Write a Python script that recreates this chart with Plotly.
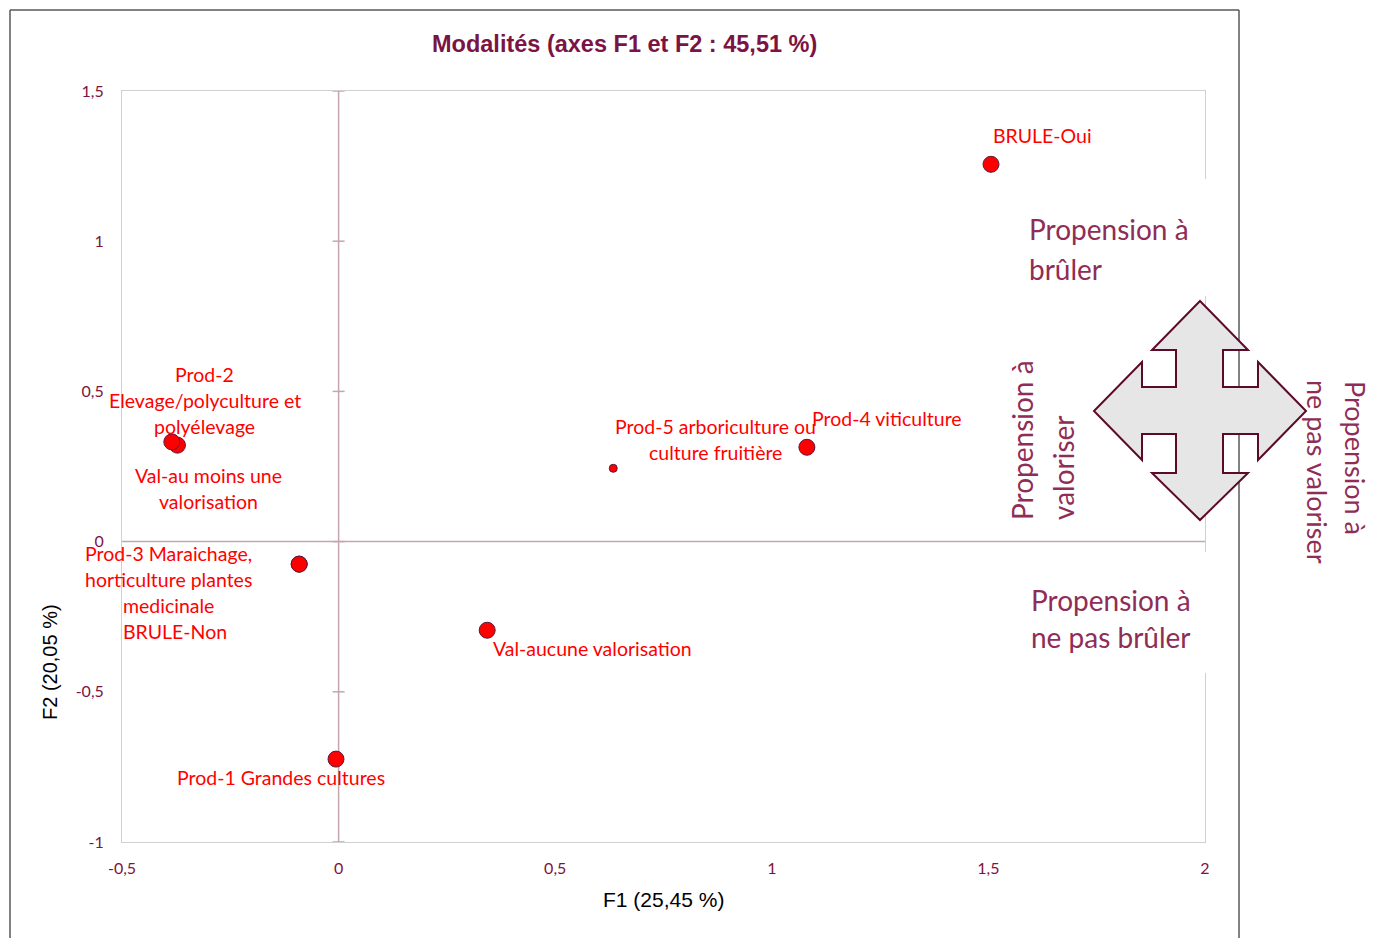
import plotly.graph_objects as go

# ---------------- data ----------------
categories = ["BRULE-Oui", "Prod-4 viticulture", "Prod-5 arboriculture ou\nculture fruitière",
              "Val-aucune valorisation", "Prod-1 Grandes cultures",
              "Prod-3 Maraichage,\nhorticulture plantes\nmedicinale", "BRULE-Non",
              "Val-au moins une\nvalorisation", "Prod-2\nElevage/polyculture et\npolyélevage"]
f1_values = [1.506, 1.081, 0.634, 0.343, -0.006, -0.091, -0.091, -0.372, -0.385]
f2_values = [1.256, 0.314, 0.244, -0.295, -0.724, -0.075, -0.075, 0.321, 0.332]

x_ticks = [-0.5, 0, 0.5, 1, 1.5, 2]
x_tick_labels = ["-0,5", "0", "0,5", "1", "1,5", "2"]
y_ticks = [-1, -0.5, 0, 0.5, 1, 1.5]
y_tick_labels = ["-1", "-0,5", "0", "0,5", "1", "1,5"]

title_text = "Modalités (axes F1 et F2 : 45,51 %)"
x_title = "F1 (25,45 %)"
y_title = "F2 (20,05 %)"

# ---------------- styling ----------------
W, H = 1380, 938
OFF = 8  # page body margin
L, R, T, B = 122, 1205, 91, 842  # plot area in screenshot pixels

def pxx(x):
    return (x - L) / (R - L)

def pxy(y):
    return (B - y) / (B - T)

marker_sizes = [16, 16, 8, 16, 16, 16, 16, 16, 16]
# label block offsets (pixels, y up) relative to each point
label_dx = [51, 80, 102, 105, -55, -131, -124, 31, 33]
label_dy = [29, 29, 29, -18, -18, -15, -67, -43, 41]
LINE_SP = 26

maroon = "#7b1343"
rose = "#8f2d56"
zero_col = "#c4a6ae"

fig = go.Figure()
fig.add_trace(go.Scatter(
    x=f1_values, y=f2_values, mode="markers",
    marker=dict(size=marker_sizes, color="#ff0000", opacity=1, line=dict(color="#5c1a3a", width=1)),
    hoverinfo="text", hovertext=[c.replace("\n", " ") for c in categories],
    showlegend=False,
))

annotations = []
for cat, xv, yv, dx, dy in zip(categories, f1_values, f2_values, label_dx, label_dy):
    lines = cat.split("\n")
    n = len(lines)
    for i, ln in enumerate(lines):
        annotations.append(dict(
            x=xv, y=yv, xref="x", yref="y", text=ln, showarrow=False,
            xshift=dx, yshift=dy + (n - 1) / 2 * LINE_SP - i * LINE_SP,
            xanchor="center", yanchor="middle",
            font=dict(family="Lato", size=19.5, color="#ff0000"),
        ))

# title & axis titles
annotations.append(dict(x=pxx(624), y=pxy(44), xref="paper", yref="paper", text="<b>" + title_text + "</b>",
                        showarrow=False, xanchor="center", yanchor="middle",
                        font=dict(family="Liberation Sans", size=23.5, color=maroon)))
annotations.append(dict(x=pxx(663), y=pxy(899), xref="paper", yref="paper", text=x_title,
                        showarrow=False, xanchor="center", yanchor="middle",
                        font=dict(family="Liberation Sans", size=21, color="#000000")))
annotations.append(dict(x=pxx(50), y=pxy(662), xref="paper", yref="paper", text=y_title, textangle=-90,
                        showarrow=False, xanchor="center", yanchor="middle",
                        font=dict(family="Liberation Sans", size=20, color="#000000")))

# side text boxes
def side_text(text, x, y, angle=0, xanchor="left", yanchor="middle", size=28):
    annotations.append(dict(x=pxx(x), y=pxy(y), xref="paper", yref="paper", text=text, textangle=angle,
                            showarrow=False, xanchor=xanchor, yanchor=yanchor,
                            font=dict(family="Lato", size=size, color=rose)))

side_text("Propension à", 1027, 229)
side_text("brûler", 1027, 269)
side_text("Propension à", 1029, 600)
side_text("ne pas brûler", 1029, 637)
side_text("Propension à", 1022, 440, angle=-90, xanchor="center")
side_text("valoriser", 1063, 468, angle=-90, xanchor="center")
side_text("Propension à", 1356, 458, angle=90, xanchor="center", size=27)
side_text("ne pas valoriser", 1318, 472, angle=90, xanchor="center", size=27)

shapes = []
# zero lines
shapes.append(dict(type="line", xref="x", yref="y", x0=0, x1=0, y0=-1, y1=1.5,
                   line=dict(color=zero_col, width=1.5), layer="below"))
shapes.append(dict(type="line", xref="x", yref="y", x0=-0.5, x1=2, y0=0, y1=0,
                   line=dict(color=zero_col, width=1.5), layer="below"))
for tv in y_ticks:
    shapes.append(dict(type="line", xref="x", yref="y", xsizemode="pixel", xanchor=0,
                       x0=-6, x1=6, y0=tv, y1=tv, line=dict(color=zero_col, width=1.5), layer="below"))

# outer chart border
border = dict(color="#595959", width=1.5)
shapes.append(dict(type="line", xref="paper", yref="paper", x0=pxx(10), x1=pxx(10), y0=pxy(10), y1=pxy(960), line=border))
shapes.append(dict(type="line", xref="paper", yref="paper", x0=pxx(10), x1=pxx(1239), y0=pxy(10), y1=pxy(10), line=border))
shapes.append(dict(type="line", xref="paper", yref="paper", x0=pxx(1239), x1=pxx(1239), y0=pxy(10), y1=pxy(960), line=border))

# white text boxes covering the plot border
shapes.append(dict(type="rect", xref="paper", yref="paper", x0=pxx(1015), x1=pxx(1215), y0=pxy(296), y1=pxy(179),
                   fillcolor="white", line=dict(width=0), layer="above"))
shapes.append(dict(type="rect", xref="paper", yref="paper", x0=pxx(1015), x1=pxx(1215), y0=pxy(673), y1=pxy(552),
                   fillcolor="white", line=dict(width=0), layer="above"))

# four-way arrow
arrow_pts = [(1200, 301), (1248, 350), (1223, 350), (1223, 387), (1258, 387), (1258, 362), (1306, 411),
             (1258, 460), (1258, 434), (1223, 434), (1223, 473), (1248, 473), (1200, 520), (1152, 473),
             (1176, 473), (1176, 434), (1142, 434), (1142, 460), (1094, 411), (1142, 362), (1142, 387),
             (1176, 387), (1176, 350), (1152, 350)]
path = "M " + " L ".join(f"{pxx(a):.5f},{pxy(b):.5f}" for a, b in arrow_pts) + " Z"
shapes.append(dict(type="path", xref="paper", yref="paper", path=path,
                   fillcolor="#e6e6e6", line=dict(color="#5c0a2a", width=2), layer="above"))

fig.update_layout(
    width=W, height=H, autosize=False,
    margin=dict(l=L - OFF, r=W - (R - OFF), t=T - OFF, b=H - (B - OFF), pad=0),
    paper_bgcolor="white", plot_bgcolor="white",
    xaxis=dict(range=[-0.5, 2], tickvals=x_ticks, ticktext=x_tick_labels, showgrid=False, zeroline=False,
               showline=True, linecolor="#d0d0d0", linewidth=1, mirror=True, ticks="",
               ticklabelstandoff=12, tickfont=dict(family="Lato", size=16, color=maroon), fixedrange=True),
    yaxis=dict(range=[-1, 1.5], tickvals=y_ticks, ticktext=y_tick_labels, showgrid=False, zeroline=False,
               showline=True, linecolor="#d0d0d0", linewidth=1, mirror=True, ticks="",
               ticklabelstandoff=14, tickfont=dict(family="Lato", size=16, color=maroon), fixedrange=True),
    annotations=annotations, shapes=shapes,
)

fig.write_html("out.html")
